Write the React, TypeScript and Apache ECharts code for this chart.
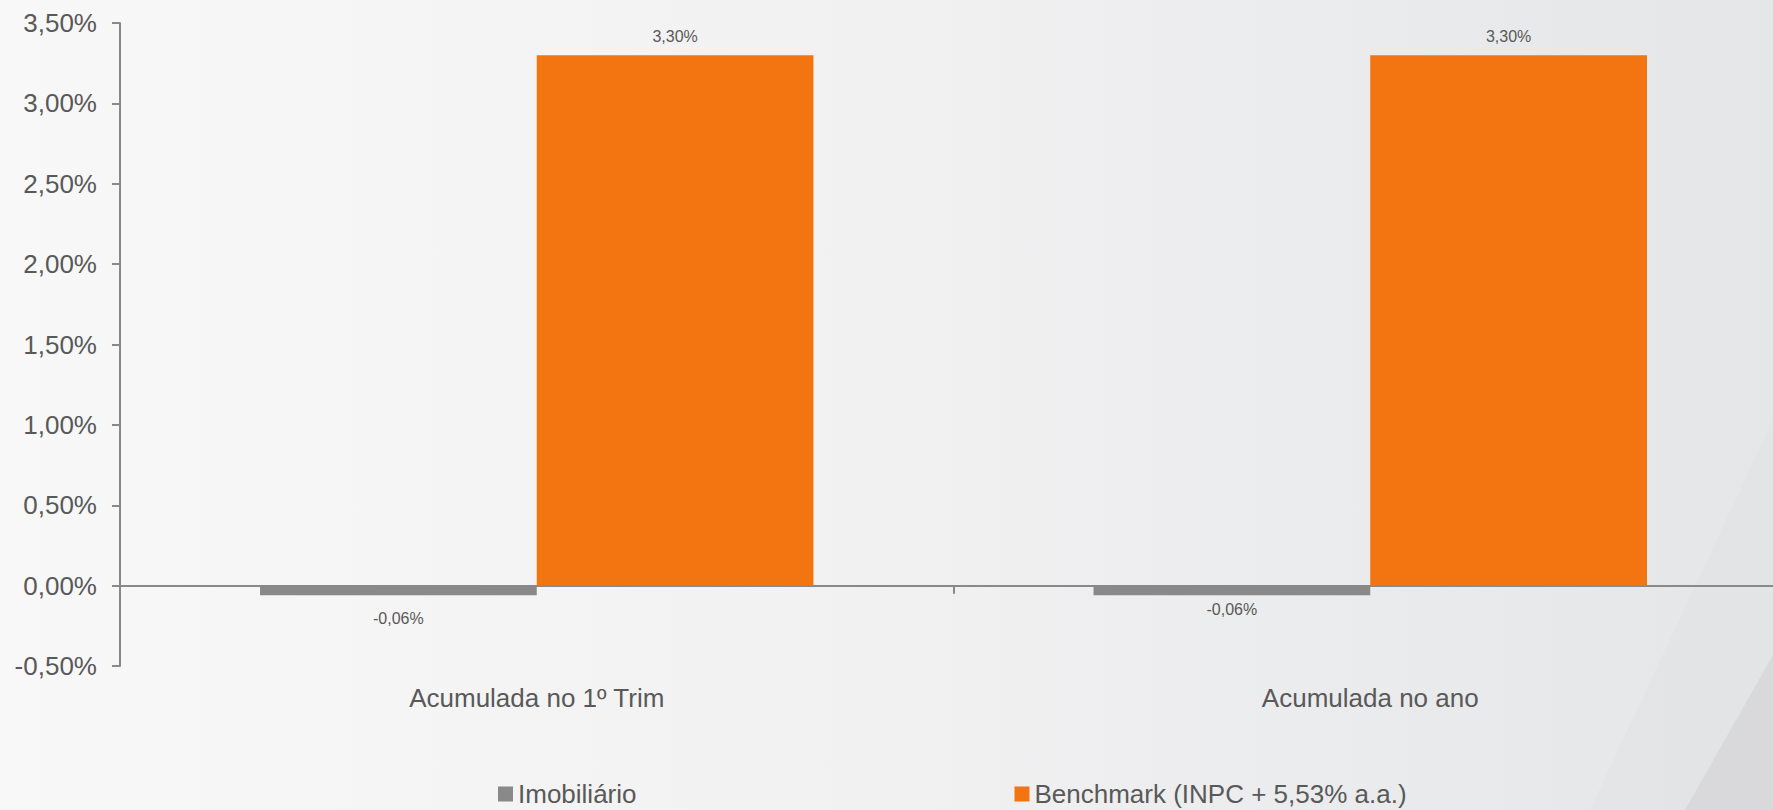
import React, { useEffect, useRef } from "react";
import * as echarts from "echarts";

const categories = ["Acumulada no 1º Trim", "Acumulada no ano"];
const seriesNames = ["Imobiliário", "Benchmark (INPC + 5,53% a.a.)"];
const imobiliario = [-0.06, -0.06];
const benchmark = [3.3, 3.3];
const yMin = -0.5;
const yMax = 3.5;
const yInterval = 0.5;

const FONT = "'Liberation Sans', Arial, sans-serif";
const TEXT = "#595959";
const AXIS = "#898989";

const fmt = (v: number) => v.toFixed(2).replace(".", ",") + "%";

export default function App() {
  const ref = useRef<HTMLDivElement>(null);
  useEffect(() => {
    if (!ref.current) return;
    const chart = echarts.init(ref.current, null, { renderer: "svg" });
    const negDist = [15, 6];
    chart.setOption({
      animation: false,
      backgroundColor: {
        type: "linear",
        x: 0,
        y: 0,
        x2: 1,
        y2: 0,
        colorStops: [
          { offset: 0, color: "#f8f8f8" },
          { offset: 0.5, color: "#f1f1f2" },
          { offset: 1, color: "#e5e6e8" },
        ],
      },
      textStyle: { fontFamily: FONT },
      graphic: [
        {
          type: "polygon",
          silent: true,
          z: -10,
          shape: { points: [[1773, 420], [1773, 810], [1590, 810]] },
          style: { fill: "rgba(222,223,225,0.35)" },
        },
        {
          type: "polygon",
          silent: true,
          z: -9,
          shape: { points: [[1773, 655], [1773, 810], [1685, 810]] },
          style: { fill: "#d9d9db" },
        },
      ],
      grid: { left: 120, right: -14, top: 23, bottom: 144, outerBoundsMode: "none" },
      legend: {
        left: 498,
        top: 781,
        padding: 0,
        itemGap: 378,
        itemWidth: 15,
        itemHeight: 15,
        icon: "rect",
        textStyle: { fontSize: 26, color: TEXT, fontFamily: FONT },
        data: seriesNames,
      },
      xAxis: [
        {
          type: "category",
          data: categories,
          axisLine: { onZero: true, lineStyle: { color: AXIS, width: 2 } },
          axisTick: { show: true, length: 8, lineStyle: { color: AXIS, width: 2 } },
          axisLabel: { show: false },
          splitLine: { show: false },
        },
        {
          type: "category",
          data: categories,
          position: "bottom",
          axisLine: { show: false, onZero: false },
          axisTick: { show: false },
          axisLabel: { show: true, margin: 19, fontSize: 26, color: TEXT, fontFamily: FONT },
          splitLine: { show: false },
        },
      ],
      yAxis: {
        type: "value",
        min: yMin,
        max: yMax,
        interval: yInterval,
        axisLine: { show: true, lineStyle: { color: AXIS, width: 2 } },
        axisTick: { show: true, length: 8, lineStyle: { color: AXIS, width: 2 } },
        splitLine: { show: false },
        axisLabel: {
          margin: 23,
          fontSize: 26,
          color: TEXT,
          fontFamily: FONT,
          formatter: (v: number) => fmt(v),
        },
      },
      series: [
        {
          name: seriesNames[0],
          type: "bar",
          xAxisIndex: 0,
          barWidth: "33.2%",
          barGap: "0%",
          itemStyle: { color: "#898989" },
          data: imobiliario.map((v, i) => ({
            value: v,
            label: { distance: negDist[i] },
          })),
          label: {
            show: true,
            position: "bottom",
            fontSize: 16,
            color: TEXT,
            fontFamily: FONT,
            formatter: (p: any) => fmt(p.value),
          },
        },
        {
          name: seriesNames[1],
          type: "bar",
          xAxisIndex: 0,
          barWidth: "33.2%",
          barGap: "0%",
          itemStyle: { color: "#f37512" },
          data: benchmark,
          label: {
            show: true,
            position: "top",
            distance: 11,
            fontSize: 16,
            color: TEXT,
            fontFamily: FONT,
            formatter: (p: any) => fmt(p.value),
          },
        },
      ],
    });
    return () => chart.dispose();
  }, []);
  return (
    <div
      ref={ref}
      style={{ position: "fixed", left: 0, top: 0, width: 1773, height: 810 }}
    />
  );
}
